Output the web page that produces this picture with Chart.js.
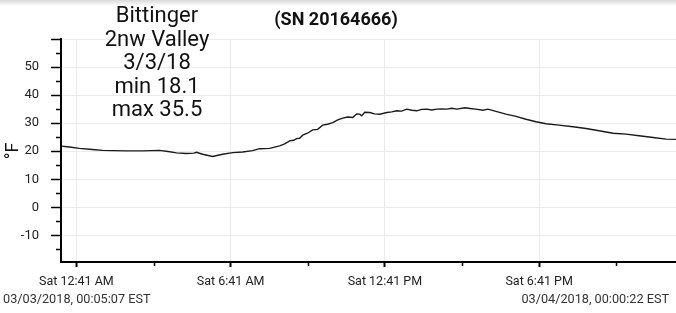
<!DOCTYPE html>
<html>
<head>
<meta charset="utf-8">
<script src="https://cdn.jsdelivr.net/npm/chart.js@4"></script>
<style>
  html, body { margin:0; padding:0; background:#fff; }
  #wrap { position:relative; width:676px; height:313px; overflow:hidden; background:#fff; }
  #shade { position:absolute; left:0; top:0; width:676px; height:6px; background:linear-gradient(#d9d9d9, rgba(255,255,255,0)); }
  canvas { position:absolute; left:0; top:0; }
  .txt { position:absolute; font-family:Roboto, "Noto Sans", sans-serif; white-space:nowrap; }
  #title { left:236px; width:200px; top:9px; text-align:center; font-weight:bold; font-size:18px; line-height:20px; color:#111; }
  #note { left:57px; width:200px; top:3px; text-align:center; font-size:22px; line-height:23.6px; color:#111; }
  #ylab { left:-8px; top:142px; width:40px; text-align:center; font-size:18px; line-height:18px; color:#111; transform:rotate(-90deg); }
  #tsl { left:3px; top:291px; font-size:12.7px; line-height:15px; color:#333; }
  #tsr { right:7px; top:291px; font-size:12.7px; line-height:15px; color:#333; }
</style>
</head>
<body>
<div id="wrap">
  <canvas id="c" width="676" height="313"></canvas>
  <div id="shade"></div>
  <div class="txt" id="title">(SN 20164666)</div>
  <div class="txt" id="note">Bittinger<br>2nw Valley<br>3/3/18<br>min 18.1<br>max 35.5</div>
  <div class="txt" id="ylab">°F</div>
  <div class="txt" id="tsl">03/03/2018, 00:05:07 EST</div>
  <div class="txt" id="tsr">03/04/2018, 00:00:22 EST</div>
</div>
<script>
// minutes after midnight 03/03/2018
const timeMinutes = [5.1, 24.6, 48.0, 78.4, 101.8, 125.1, 157.9, 195.2, 235.0, 255.0, 274.7, 298.1, 315.0, 321.4, 335.5, 358.8, 382.2, 405.6, 428.9, 452.3, 468.7, 492.0, 515.4, 527.0, 538.8, 548.0, 555.1, 562.0, 569.2, 580.0, 592.5, 604.0, 615.9, 627.0, 639.3, 651.0, 662.6, 674.0, 686.0, 695.0, 702.4, 707.0, 714.0, 725.7, 737.0, 749.1, 765.5, 777.0, 788.8, 800.0, 812.2, 824.0, 835.6, 847.0, 859.0, 870.0, 882.3, 894.0, 905.7, 917.0, 929.1, 947.8, 960.0, 973.5, 989.8, 1001.5, 1020.2, 1043.6, 1067.0, 1090.3, 1113.7, 1137.1, 1167.4, 1200.2, 1230.5, 1260.9, 1293.6, 1324.0, 1354.3, 1387.0, 1417.4, 1440.4];
const tempF = [21.8, 21.5, 21.0, 20.6, 20.3, 20.2, 20.1, 20.1, 20.3, 19.9, 19.4, 19.2, 19.3, 19.6, 18.9, 18.1, 18.9, 19.5, 19.7, 20.2, 20.9, 21.0, 21.9, 22.6, 23.7, 23.9, 24.5, 24.6, 25.7, 26.4, 27.6, 27.8, 29.3, 29.6, 30.2, 31.2, 31.8, 32.2, 32.0, 33.3, 33.2, 32.6, 33.9, 33.8, 33.3, 33.2, 33.8, 34.0, 34.4, 34.3, 35.0, 34.6, 34.4, 34.9, 35.0, 34.7, 35.0, 35.1, 35.0, 35.3, 35.0, 35.5, 35.2, 35.0, 34.6, 35.0, 34.2, 33.2, 32.4, 31.4, 30.5, 29.8, 29.3, 28.7, 28.1, 27.3, 26.4, 26.1, 25.5, 24.9, 24.3, 24.2];

const xMajorTicks = [41, 401, 761, 1121];
const xMajorLabels = ['Sat 12:41 AM', 'Sat 6:41 AM', 'Sat 12:41 PM', 'Sat 6:41 PM'];
const xMinorTicks = [221, 581, 941, 1301];
const yMajorTicks = [-10, 0, 10, 20, 30, 40, 50, 60];
const yMajorLabels = ['-10', '0', '10', '20', '30', '40', '50', ''];
const yMinorTicks = [-15, -5, 5, 15, 25, 35, 45, 55];

const points = timeMinutes.map((t, i) => ({ x: t, y: tempF[i] }));

const minorTicks = {
  id: 'minorTicks',
  afterDraw(chart) {
    const { ctx, chartArea, scales } = chart;
    ctx.save();
    ctx.strokeStyle = '#000';
    ctx.lineWidth = 1.5;
    ctx.beginPath();
    xMinorTicks.forEach(v => {
      const px = Math.round(scales.x.getPixelForValue(v)) + 0.5;
      ctx.moveTo(px, chartArea.bottom);
      ctx.lineTo(px, chartArea.bottom + 4);
    });
    yMinorTicks.forEach(v => {
      const py = Math.round(scales.y.getPixelForValue(v)) + 0.5;
      ctx.moveTo(chartArea.left - 5, py);
      ctx.lineTo(chartArea.left, py);
    });
    ctx.stroke();
    ctx.restore();
  }
};

new Chart(document.getElementById('c'), {
  type: 'line',
  data: {
    datasets: [{
      data: points,
      borderColor: '#1a1a1a',
      borderWidth: 1.4,
      pointRadius: 0,
      fill: false,
      tension: 0
    }]
  },
  options: {
    responsive: false,
    animation: false,
    layout: { padding: { top: 39, left: 0, right: 0, bottom: 0 } },
    plugins: { legend: { display: false }, tooltip: { enabled: false } },
    scales: {
      x: {
        type: 'linear',
        min: 5,
        max: 1440.5,
        afterBuildTicks: s => { s.ticks = xMajorTicks.map(v => ({ value: v })); },
        afterFit: s => { s.height = 51; },
        ticks: {
          autoSkip: false,
          maxRotation: 0,
          padding: 7,
          color: '#222',
          font: { family: 'Roboto', size: 12.5 },
          callback: (v, i) => xMajorLabels[i]
        },
        grid: { color: '#ebebeb', lineWidth: 1, tickColor: '#000', tickLength: 5, tickWidth: 2 },
        border: { color: '#000', width: 2 }
      },
      y: {
        type: 'linear',
        min: -19.5,
        max: 60,
        afterBuildTicks: s => { s.ticks = yMajorTicks.map(v => ({ value: v })); },
        afterFit: s => { s.width = 61; },
        ticks: {
          padding: 12,
          color: '#222',
          font: { family: 'Roboto', size: 13 },
          callback: (v, i) => yMajorLabels[i]
        },
        grid: { color: '#ebebeb', lineWidth: 1, tickColor: '#000', tickLength: 10, tickWidth: 1.5 },
        border: { color: '#000', width: 2 }
      }
    }
  },
  plugins: [minorTicks]
});
</script>
</body>
</html>
